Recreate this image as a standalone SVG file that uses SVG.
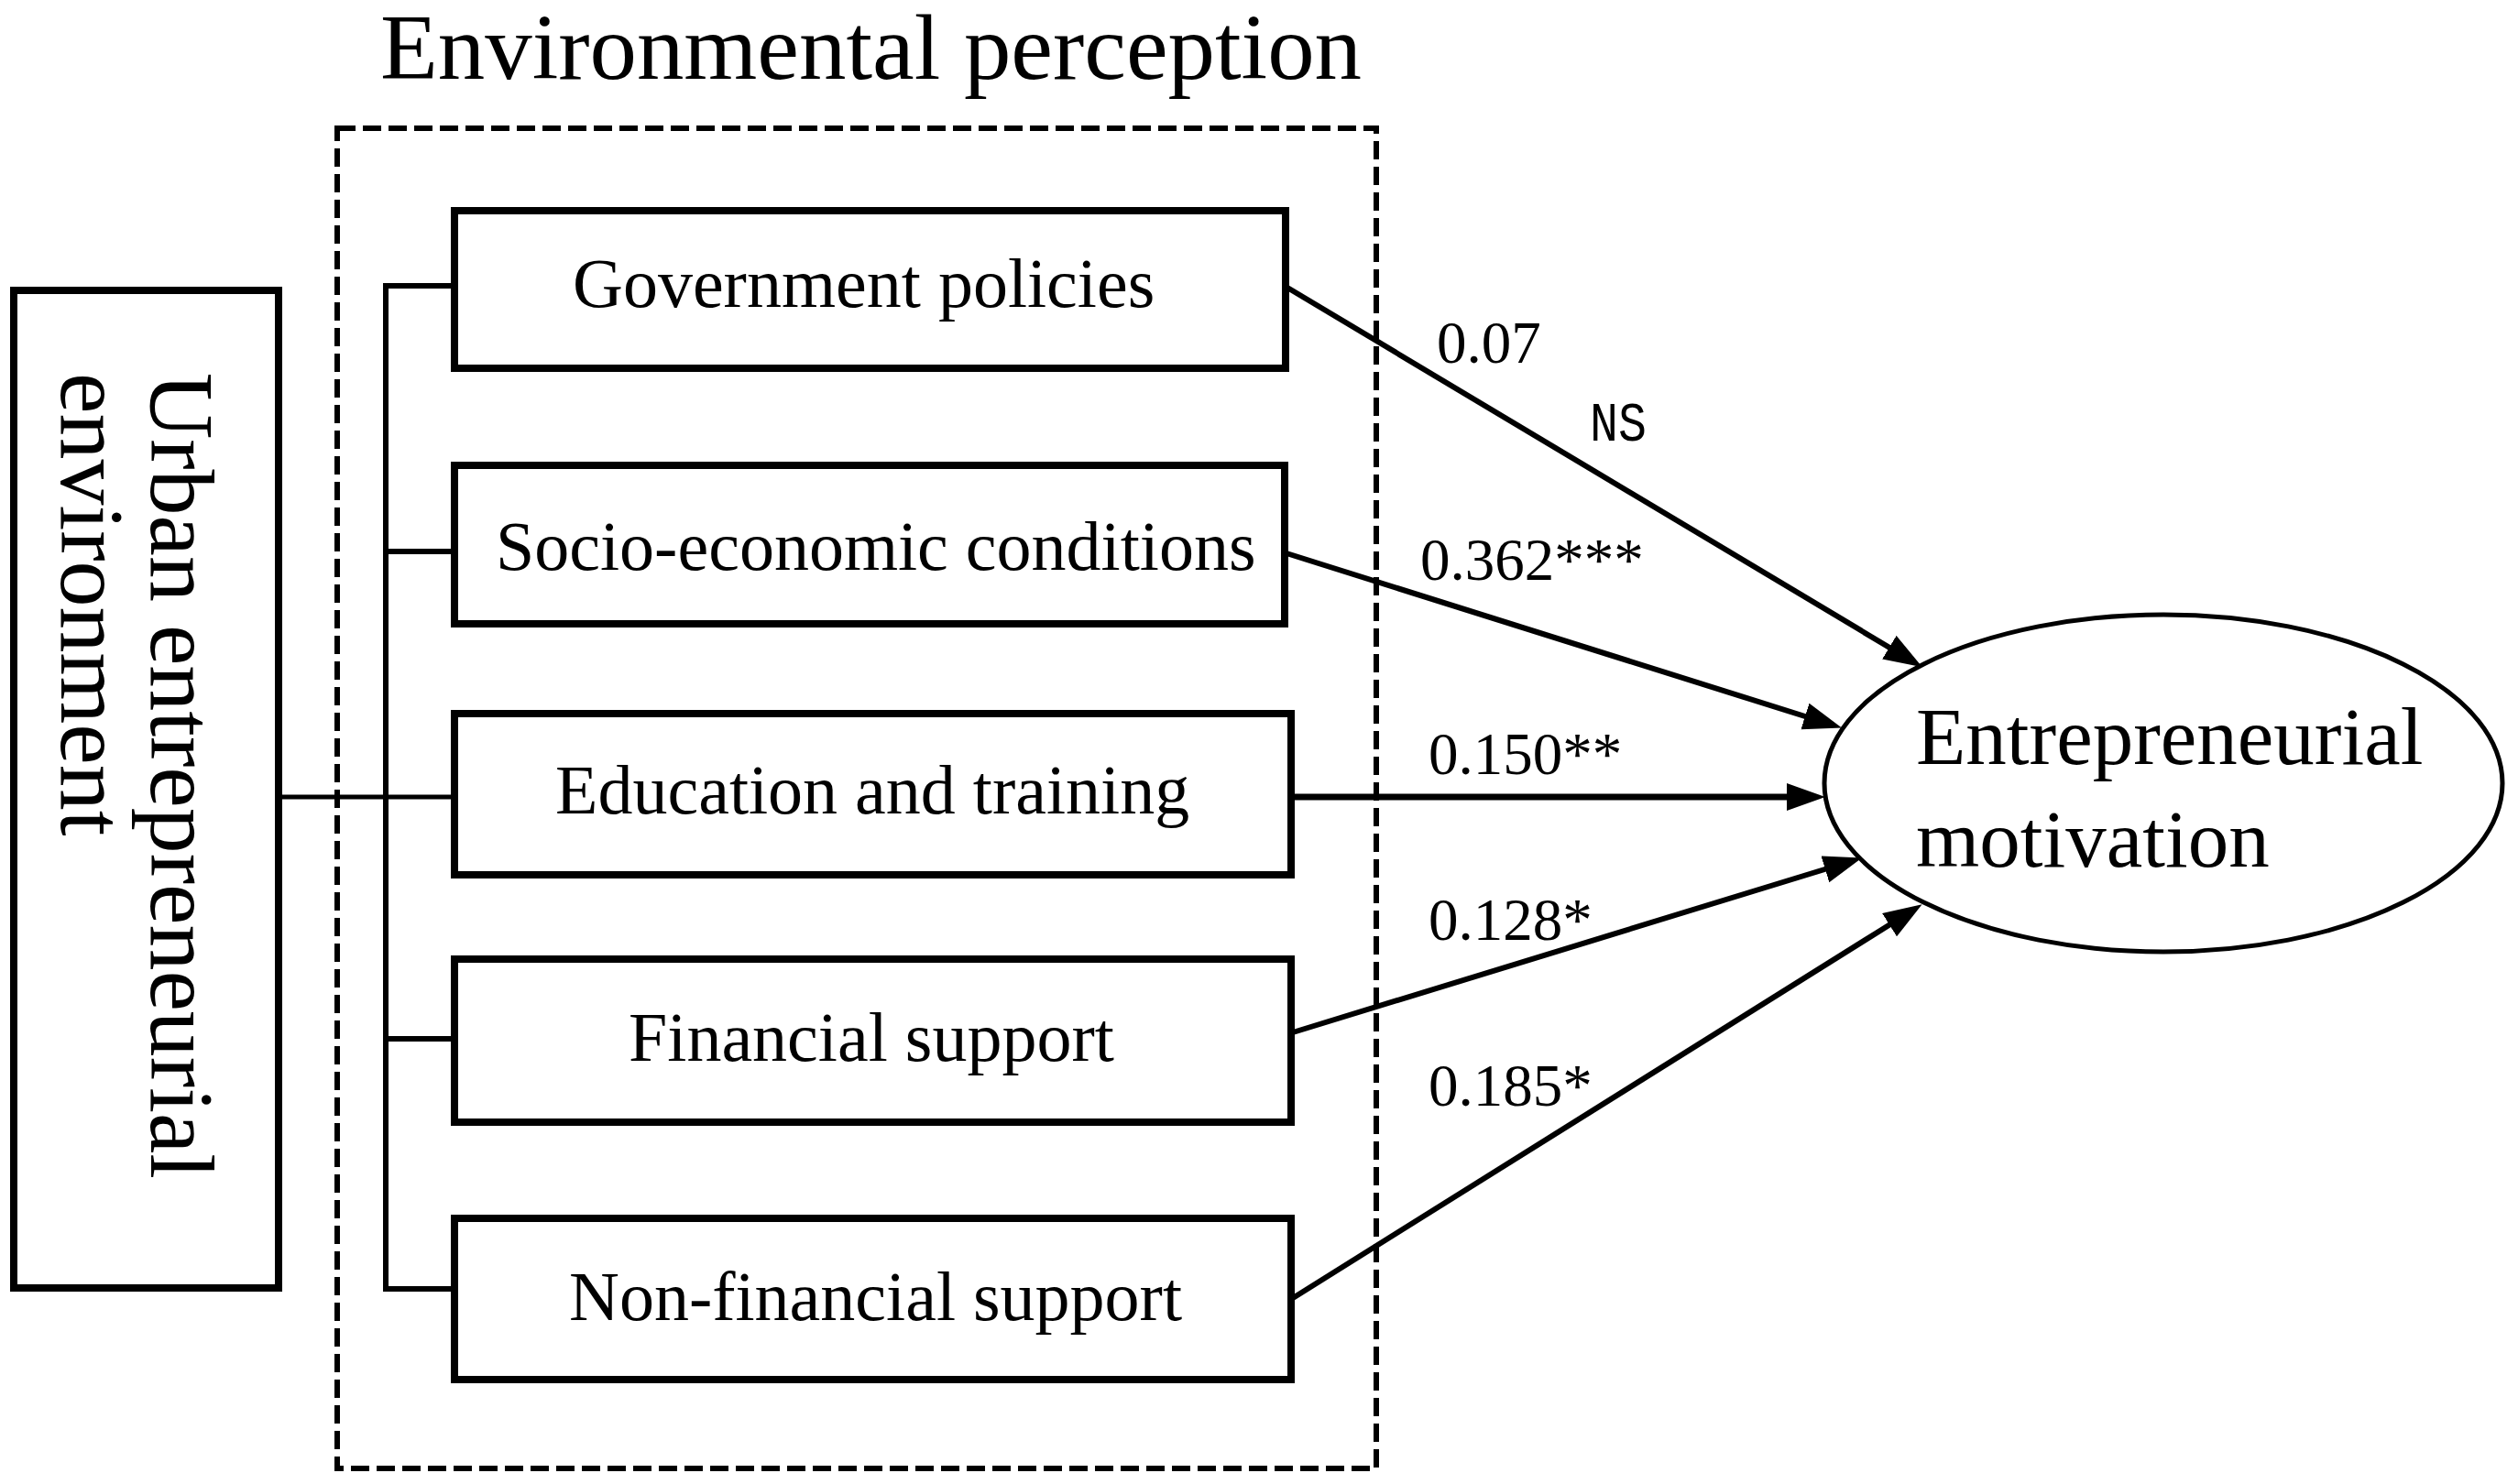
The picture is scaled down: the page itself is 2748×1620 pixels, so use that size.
<svg xmlns="http://www.w3.org/2000/svg" width="2748" height="1620" viewBox="0 0 2748 1620">
<style>
.box{fill:#fff;stroke:#000;stroke-width:8}
.lbl{font-family:"Liberation Serif","Times New Roman",serif;font-size:76px;fill:#000}
.coef{font-family:"Liberation Serif","Times New Roman",serif;font-size:65px;fill:#000}
.wire{stroke:#000;stroke-width:6;fill:none}
.arr{stroke:#000;stroke-width:6;fill:none;marker-end:url(#ah)}
</style>
<defs>
<marker id="ah" markerUnits="userSpaceOnUse" markerWidth="44" markerHeight="34" refX="20" refY="15" orient="auto" viewBox="0 0 44 34">
<path d="M0,0 L42,15 L0,30 Z" fill="#000"/>
</marker>
</defs>
<rect width="2748" height="1620" fill="#fff"/>
<text x="415" y="86" font-family="Liberation Serif,Times New Roman,serif" font-size="102" textLength="1071" lengthAdjust="spacingAndGlyphs">Environmental perception</text>
<rect id="perception-group" x="368" y="140" width="1134" height="1463" fill="none" stroke="#000" stroke-width="6" stroke-dasharray="20 8"/>
<g id="urban">
<rect class="box" x="15" y="317" width="289" height="1089"/>
<text class="lbl" transform="translate(165,407) rotate(90)" style="font-size:100px">Urban entrepreneurial<tspan x="0" dy="98">environment</tspan></text>
</g>
<g id="connectors">
<line class="wire" x1="421" y1="312" x2="421" y2="1407"/>
<line class="wire" x1="418" y1="312" x2="496" y2="312"/>
<line class="wire" x1="421" y1="602" x2="496" y2="602"/>
<line class="wire" x1="304" y1="870" x2="496" y2="870" style="stroke-width:5"/>
<line class="wire" x1="421" y1="1134" x2="496" y2="1134"/>
<line class="wire" x1="418" y1="1407" x2="496" y2="1407"/>
<line class="arr" x1="1405" y1="314" x2="2079" y2="717"/>
<line class="arr" x1="1404" y1="604" x2="1989" y2="788"/>
<line class="arr" x1="1411" y1="870" x2="1970" y2="870" style="stroke-width:7"/>
<line class="arr" x1="1411" y1="1127" x2="2011" y2="943"/>
<line class="arr" x1="1411" y1="1417" x2="2079" y2="999"/>
<text class="coef" x="1568" y="396">0.07</text>
<text x="1735" y="481" font-family="Liberation Mono,Courier New,monospace" font-size="62" textLength="62" lengthAdjust="spacingAndGlyphs">NS</text>
<text class="coef" x="1550" y="633">0.362***</text>
<text class="coef" x="1559" y="845">0.150**</text>
<text class="coef" x="1559" y="1026">0.128*</text>
<text class="coef" x="1559" y="1207">0.185*</text>
</g>
<g id="gov">
<rect class="box" x="496" y="230" width="907" height="172"/>
<text class="lbl" x="625" y="335">Government policies</text>
</g>
<g id="socio">
<rect class="box" x="496" y="508" width="906" height="173"/>
<text class="lbl" x="541" y="622">Socio-economic conditions</text>
</g>
<g id="edu">
<rect class="box" x="496" y="779" width="913" height="176"/>
<text class="lbl" x="606" y="888">Education and training</text>
</g>
<g id="fin">
<rect class="box" x="496" y="1047" width="913" height="178"/>
<text class="lbl" x="686" y="1158">Financial support</text>
</g>
<g id="nonfin">
<rect class="box" x="496" y="1330" width="913" height="176"/>
<text class="lbl" x="621" y="1441">Non-financial support</text>
</g>
<g id="motivation">
<ellipse cx="2361" cy="855" rx="370" ry="184" fill="#fff" stroke="#000" stroke-width="5"/>
<text class="lbl" x="2091" y="834" style="font-size:89px">Entrepreneurial</text>
<text class="lbl" x="2091" y="946" style="font-size:89px">motivation</text>
</g>
</svg>
